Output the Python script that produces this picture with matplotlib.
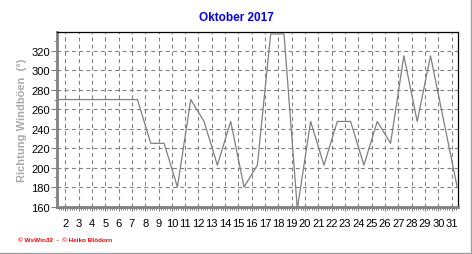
import matplotlib
matplotlib.use("Agg")
import matplotlib.pyplot as plt
from matplotlib.ticker import MultipleLocator, FixedLocator
from matplotlib.lines import Line2D

# ---- data ----
days = list(range(1, 32))
direction = [270, 270, 270, 270, 270, 270, 270, 225, 225, 180,
             270, 247.5, 202.5, 247.5, 180, 202.5, 337.5, 337.5, 157.5, 247.5,
             202.5, 247.5, 247.5, 202.5, 247.5, 225, 315, 247.5, 315, 247.5,
             180]
day_offset = 0.42
xtick_labels = [str(d) for d in range(2, 32)]
ytick_values = list(range(160, 321, 20))
title = "Oktober 2017"
ylabel = "Richtung Windböen  (°)"
footer = "© WsWin32  -  © Heiko Blödorn"

plt.rcParams['font.family'] = ['Liberation Sans', 'DejaVu Sans']

W, H = 472, 255
fig = plt.figure(figsize=(W / 100, H / 100), dpi=100)
fig.patch.set_facecolor('white')

ax = fig.add_axes([57 / W, 1 - 208 / H, (457.7 - 57) / W, (208 - 33) / H])
gray = '#808080'

x = [d + day_offset for d in days]
ax.plot(x, direction, color=gray, linewidth=0.9, clip_on=True, zorder=3)

ax.set_xlim(1.38, 31.46)
ax.set_ylim(159.5, 339.5)

ax.xaxis.set_major_locator(FixedLocator(list(range(2, 32))))
ax.set_xticklabels(xtick_labels)
ax.xaxis.set_minor_locator(MultipleLocator(1 / 6))
ax.yaxis.set_major_locator(FixedLocator(ytick_values))
ax.yaxis.set_minor_locator(MultipleLocator(10))

ax.grid(True, which='major', color=gray, linestyle=(0, (3.5, 3)), linewidth=0.8)

ax.tick_params(axis='both', which='major', colors=gray, labelcolor='black',
               labelsize=8, width=0.8)
ax.tick_params(axis='x', which='major', length=3, pad=5)
ax.tick_params(axis='y', which='major', length=4, pad=1)
ax.tick_params(axis='both', which='minor', colors=gray, length=2, width=0.7)

for s in ('top', 'right'):
    ax.spines[s].set_color('black')
    ax.spines[s].set_linewidth(0.9)
for s in ('left', 'bottom'):
    ax.spines[s].set_color(gray)
    ax.spines[s].set_linewidth(2.0)

fig.text(0.5, 1 - 18 / H, title, color='#0000ff', fontsize=8.5,
         fontweight='bold', ha='center', va='center')
fig.text(22 / W, 1 - 120 / H, ylabel, color='#a8a8a8', fontsize=8,
         fontweight='bold', rotation=90, ha='center', va='center')
fig.text(18 / W, 1 - 241 / H, footer, color='#ff0000', fontsize=4.6,
         fontweight='bold', ha='left', va='center')

# frame lines at bottom and right of the image
fig.add_artist(Line2D([0, 1 - 0.5 / W], [1.5 / H, 1.5 / H], color='#a0a0a0',
                      linewidth=1, transform=fig.transFigure))
fig.add_artist(Line2D([1 - 1.5 / W, 1 - 1.5 / W], [0, 1], color='#a0a0a0',
                      linewidth=1, transform=fig.transFigure))

fig.savefig('out.png', dpi=100, facecolor='white')
